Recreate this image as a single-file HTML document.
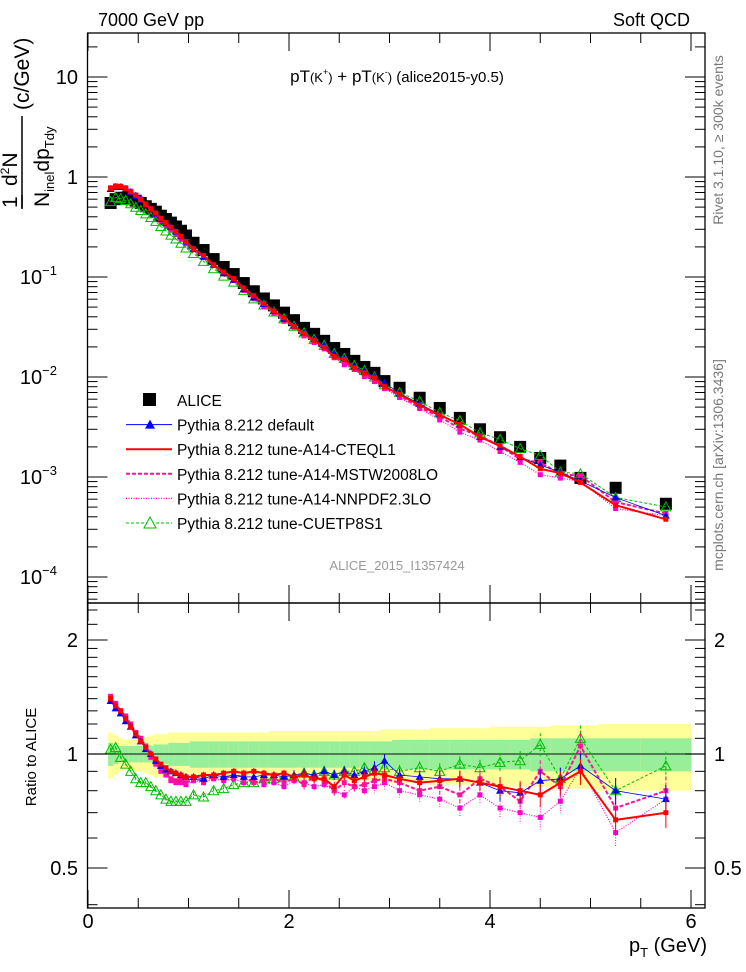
<!DOCTYPE html>
<html><head><meta charset="utf-8"><style>
body{margin:0;background:#fff;}
svg{display:block;font-family:"Liberation Sans",sans-serif;}
</style></head><body>
<svg id="c" width="746" height="972" xmlns="http://www.w3.org/2000/svg">
<text x="98" y="26" font-size="18">7000 GeV pp</text>
<text x="690" y="26" font-size="18" text-anchor="end">Soft QCD</text>
<text x="397" y="82" font-size="17" text-anchor="middle">pT<tspan font-size="13">(K</tspan><tspan font-size="9" dy="-7">+</tspan><tspan font-size="13" dy="7">)</tspan> + pT<tspan font-size="13">(K</tspan><tspan font-size="9" dy="-7">-</tspan><tspan font-size="13" dy="7">)</tspan><tspan font-size="15"> (alice2015-y0.5)</tspan></text>
<g transform="translate(18,0) rotate(-90)" font-size="21">
<text x="-208" y="-1">1</text>
<line x1="-209" y1="4" x2="-195" y2="4" stroke="#000" stroke-width="1.5"/>
<text x="-186" y="-1">d<tspan font-size="12" dy="-8">2</tspan><tspan dy="8">N</tspan></text>
<line x1="-208" y1="4" x2="-116" y2="4" stroke="#000" stroke-width="1.5" transform="translate(0,0)"/>
<text x="-207" y="31">N<tspan font-size="13" dy="5">inel</tspan><tspan dy="-5">dp</tspan><tspan font-size="13" dy="5">Tdy</tspan></text>
<text x="-110" y="11">(c/GeV)</text>
</g>
<text transform="translate(723,140) rotate(-90)" font-size="14" fill="#777" text-anchor="middle">Rivet 3.1.10, ≥ 300k events</text>
<text transform="translate(723,465) rotate(-90)" font-size="14" fill="#777" text-anchor="middle">mcplots.cern.ch [arXiv:1306.3436]</text>
<text x="397" y="570" font-size="13" fill="#999" text-anchor="middle">ALICE_2015_I1357424</text>
<text transform="translate(36,757) rotate(-90)" font-size="15" text-anchor="middle">Ratio to ALICE</text>
<text x="707" y="952" font-size="20" text-anchor="end">p<tspan font-size="13" dy="5">T</tspan><tspan dy="-5"> (GeV)</tspan></text>
<g id="bands"></g><g id="main"></g><g id="ratio"></g><g id="axes"></g><g id="legend"></g>
</svg>
<script>
const pT=[0.225,0.275,0.325,0.375,0.425,0.475,0.525,0.575,0.625,0.675,0.725,0.775,0.825,0.875,0.925,0.975,
1.05,1.15,1.25,1.35,1.45,1.55,1.65,1.75,1.85,1.95,2.05,2.15,2.25,2.35,2.45,2.55,2.65,2.75,2.85,2.95,
3.1,3.3,3.5,3.7,3.9,4.1,4.3,4.5,4.7,4.9,5.25,5.75];
const alice=[0.55,0.6,0.62,0.62,0.6,0.58,0.55,0.51,0.48,0.45,0.41,0.38,0.35,0.32,0.29,0.26,
0.22,0.186,0.151,0.126,0.107,0.087,0.072,0.061,0.052,0.044,0.037,0.031,0.027,0.023,0.0195,0.017,0.0145,0.0126,0.011,0.0091,
0.0078,0.0062,0.0049,0.0039,0.003,0.0025,0.002,0.00155,0.0013,0.00098,0.00078,0.00054];
const bandGreen=[0.07,0.06,0.05,0.05,0.05,0.05,0.05,0.05,0.05,0.06,0.06,0.06,0.07,0.07,0.07,0.07,0.08,0.08,0.08,0.08,0.08,0.08,0.08,0.08,0.08,0.08,0.08,0.08,0.08,0.08,0.08,0.08,0.08,0.08,0.08,0.08,0.09,0.09,0.09,0.09,0.09,0.09,0.09,0.1,0.1,0.1,0.1,0.1];
const bandYellow=[0.14,0.12,0.1,0.09,0.09,0.1,0.1,0.11,0.12,0.13,0.13,0.13,0.14,0.14,0.14,0.14,0.14,0.14,0.14,0.14,0.14,0.14,0.14,0.14,0.15,0.15,0.15,0.15,0.15,0.15,0.15,0.15,0.15,0.15,0.15,0.16,0.16,0.16,0.17,0.17,0.17,0.18,0.18,0.18,0.19,0.19,0.2,0.2];
const rDefault=[1.38,1.32,1.28,1.22,1.18,1.12,1.08,1.03,1.0,0.96,0.93,0.91,0.9,0.89,0.88,0.87,.87,.86,.88,.87,.88,.87,.87,.88,.88,.87,.88,.89,.88,.9,.88,.9,.88,.9,.92,.96,.88,.87,.86,.86,.84,.8,.79,.85,.86,.93,.8,.76];
const rCteq=[1.4,1.34,1.3,1.24,1.18,1.13,1.08,1.04,1.0,0.97,0.94,0.92,0.9,0.89,0.88,0.87,.87,.88,.88,.89,.9,.89,.9,.89,.88,.89,.87,.88,.86,.86,.82,.88,.85,.87,.89,.88,.86,.84,.85,.86,.84,.82,.8,.78,.84,.9,.67,.7];
const rMstw=[1.42,1.35,1.3,1.26,1.2,1.14,1.1,1.05,1.0,0.95,0.92,0.89,0.86,0.85,0.86,0.84,.86,.85,.87,.86,.88,.87,.84,.85,.86,.84,.86,.83,.87,.85,.8,.84,.82,.83,.85,.86,.84,.8,.82,.78,.86,.82,.75,.9,.82,1.05,.72,.8];
const rNnpdf=[1.4,1.36,1.3,1.24,1.2,1.14,1.08,1.04,.98,.94,.9,.88,.85,.84,.84,.83,.85,.84,.86,.85,.86,.84,.85,.83,.84,.82,.85,.84,.82,.83,.8,.78,.82,.8,.82,.84,.8,.78,.76,.72,.78,.72,.7,.68,.75,.92,.62,.76];
const rCuetp=[1.03,1.04,.98,.94,.9,.86,.84,.84,.82,.8,.78,.76,.75,.75,.75,.75,.78,.77,.8,.81,.83,.84,.84,.86,.86,.87,.87,.89,.88,.9,.88,.9,.9,.92,.91,.92,.9,.92,.9,.94,.92,.95,.96,1.06,.86,1.1,.8,.93];
const mcErr=[.01,.01,.01,.01,.01,.01,.01,.01,.01,.01,.01,.01,.01,.01,.01,.01,.02,.02,.02,.02,.02,.02,.02,.02,.02,.02,.03,.03,.03,.03,.03,.03,.03,.03,.04,.04,.04,.04,.05,.05,.05,.06,.06,.07,.07,.08,.08,.09];
const xTicks=[0,2,4,6];
const ratioTicks=[0.5,1,2];
const mainTicks=[1e-4,1e-3,1e-2,1e-1,1,10];
const mainTickLabels=["10","10","10","10","1","10"];
const mainTickExp=["−4","−3","−2","−1","",""];

const L=87.5,R=705,T=33,MID=603,B=908;
const X=v=>88+v*100.5;
const Y=v=>177-100*Math.log10(v);
const YR=v=>754-114*Math.log2(v);
const NS="http://www.w3.org/2000/svg";
function mk(par,tag,at){const e=document.createElementNS(NS,tag);for(const k in at)e.setAttribute(k,at[k]);document.getElementById(par).appendChild(e);return e;}

for(let i=0;i<pT.length;i++){
  const lo=i==0?pT[0]-0.025:(pT[i-1]+pT[i])/2, hi=i==pT.length-1?6.0:(pT[i]+pT[i+1])/2;
  let e=mk("bands","rect",{x:X(lo),y:YR(1+bandYellow[i]),width:X(hi)-X(lo)+0.5,height:YR(1-bandYellow[i])-YR(1+bandYellow[i]),fill:"#ffff99"});
  
  
  e=mk("bands","rect",{x:X(lo),y:YR(1+bandGreen[i]),width:X(hi)-X(lo)+0.5,height:YR(1-bandGreen[i])-YR(1+bandGreen[i]),fill:"#99ee99"});
  
  
}
let l1=mk("bands","line",{x1:L,x2:R,y1:YR(1),y2:YR(1),stroke:"#333","stroke-width":1.2});



for(let i=0;i<pT.length;i++){
  const e=mk("main","rect",{x:X(pT[i])-6,y:Y(alice[i])-6,width:12,height:12,fill:"#000"});
  
  
}
const series=[
 {n:"cuetp8s1",r:rCuetp,c:"#00bb00",w:1,d:"3,2",m:"tri-open"},
 {n:"nnpdf",r:rNnpdf,c:"#ff00cc",w:1.2,d:"1,1.5",m:"dot"},
 {n:"mstw",r:rMstw,c:"#ff1199",w:2,d:"4,2",m:"dot"},
 {n:"default",r:rDefault,c:"#0000ff",w:0.8,d:"",m:"tri"},
 {n:"cteql1",r:rCteq,c:"#ff0000",w:2,d:"",m:"dot"}];
function marker(g,s,x,y){
  let e;
  if(s.m=="tri"){e=mk(g,"polygon",{points:`${x-4},${y+3} ${x+4},${y+3} ${x},${y-4}`,fill:s.c});}
  else if(s.m=="tri-open"){e=mk(g,"polygon",{points:`${x-5},${y+4} ${x+5},${y+4} ${x},${y-5}`,fill:"none",stroke:s.c,"stroke-width":1});}
  else {e=mk(g,"rect",{x:x-2.5,y:y-2.5,width:5,height:5,fill:s.c});}
  
  
}
for(const s of series){
  let pm="",pr="";
  for(let i=0;i<pT.length;i++){
    const v=alice[i]*s.r[i];
    pm+=(i?"L":"M")+X(pT[i]).toFixed(1)+","+Y(v).toFixed(1);
    pr+=(i?"L":"M")+X(pT[i]).toFixed(1)+","+YR(s.r[i]).toFixed(1);
  }
  let e=mk("main","path",{d:pm,fill:"none",stroke:s.c,"stroke-width":s.w,"stroke-dasharray":s.d});
  
  
  e=mk("ratio","path",{d:pr,fill:"none",stroke:s.c,"stroke-width":s.w,"stroke-dasharray":s.d});
  
  
  for(let i=0;i<pT.length;i++){
    const v=alice[i]*s.r[i],x=X(pT[i]);
    const er=mcErr[i]*s.r[i];
    e=mk("ratio","line",{x1:x,x2:x,y1:YR(s.r[i]+er),y2:YR(s.r[i]-er),stroke:s.c,"stroke-width":1,"stroke-dasharray":s.d});
    
    
    marker("main",s,x,Y(v));
    marker("ratio",s,x,YR(s.r[i]));
  }
}

let f=mk("axes","rect",{x:L,y:T,width:R-L,height:MID-T,fill:"none",stroke:"#000","stroke-width":1.3});


f=mk("axes","rect",{x:L,y:MID,width:R-L,height:B-MID,fill:"none",stroke:"#000","stroke-width":1.3});


function tk(x1,y1,x2,y2){const e=mk("axes","line",{x1,y1,x2,y2,stroke:"#000","stroke-width":1});}
function tx(x,y,s,a,fs,name){const e=mk("axes","text",{x,y,"text-anchor":a,"font-size":fs});e.textContent=s;return e;}
for(let v=0;v<=6.1;v+=0.5){
  const x=X(v),maj=Math.abs(v/2-Math.round(v/2))<1e-6,len=maj?18:10;
  tk(x,T,x,T+len);tk(x,MID,x,MID-len);tk(x,MID,x,MID+len);tk(x,B,x,B-len);
}
for(const v of xTicks) tx(X(v),928,String(v),"middle",20,"x-tick-label");
for(let d=-5;d<=1;d++){
  for(let k=1;k<10;k++){
    const v=k*Math.pow(10,d),y=Y(v);
    if(y<T||y>MID)continue;
    const len=k==1?20:10;
    tk(L,y,L+len,y);tk(R,y,R-len,y);
  }
}
mainTicks.forEach((v,i)=>{
  const t=tx(mainTickExp[i]?68:78,Y(v)+7,mainTickLabels[i],"end",20,"y-tick-label");
  if(mainTickExp[i]){const s=document.createElementNS(NS,"tspan");s.setAttribute("font-size","13");s.setAttribute("dy","-9");s.textContent=mainTickExp[i];t.appendChild(s);t.setAttribute("x","57");}
});
for(const v of [0.4,0.5,0.6,0.7,0.8,0.9,1,1.1,1.2,1.3,1.4,1.5,1.6,1.7,1.8,1.9,2,2.2,2.4]){
  const y=YR(v);if(y<MID||y>B)continue;
  const len=(v==0.5||v==1||v==2)?20:10;
  tk(L,y,L+len,y);tk(R,y,R-len,y);
}
for(const v of ratioTicks){tx(78,YR(v)+7,String(v),"end",20,"ratio-tick-label");tx(714,YR(v)+7,String(v),"start",20,"ratio-tick-label-right");}

const leg=[["ALICE","#000","",0,"sq"],["Pythia 8.212 default","#0000ff","",1,"tri"],["Pythia 8.212 tune-A14-CTEQL1","#ff0000","",2,""],
["Pythia 8.212 tune-A14-MSTW2008LO","#ff1199","4,2",2,""],["Pythia 8.212 tune-A14-NNPDF2.3LO","#ff00cc","1,1.5",1.2,""],["Pythia 8.212 tune-CUETP8S1","#00bb00","3,2",1,"trio"]];
leg.forEach((l,i)=>{
  const y=400+i*24.6;
  if(l[4]=="sq"){const e=mk("legend","rect",{x:143,y:y-7,width:13,height:13,fill:"#000"});}
  else{const e=mk("legend","line",{x1:126,x2:172,y1:y,y2:y,stroke:l[1],"stroke-width":l[3],"stroke-dasharray":l[2]});}
  if(l[4]=="tri"){const e=mk("legend","polygon",{points:`145,${y+4} 155,${y+4} 150,${y-5}`,fill:l[1]});}
  if(l[4]=="trio"){const e=mk("legend","polygon",{points:`144,${y+5} 156,${y+5} 150,${y-6}`,fill:"#fff",stroke:l[1]});}
  const t=mk("legend","text",{x:177,y:y+6,"font-size":15.5});t.textContent=l[0];
  
  
});
</script>
</body></html>
